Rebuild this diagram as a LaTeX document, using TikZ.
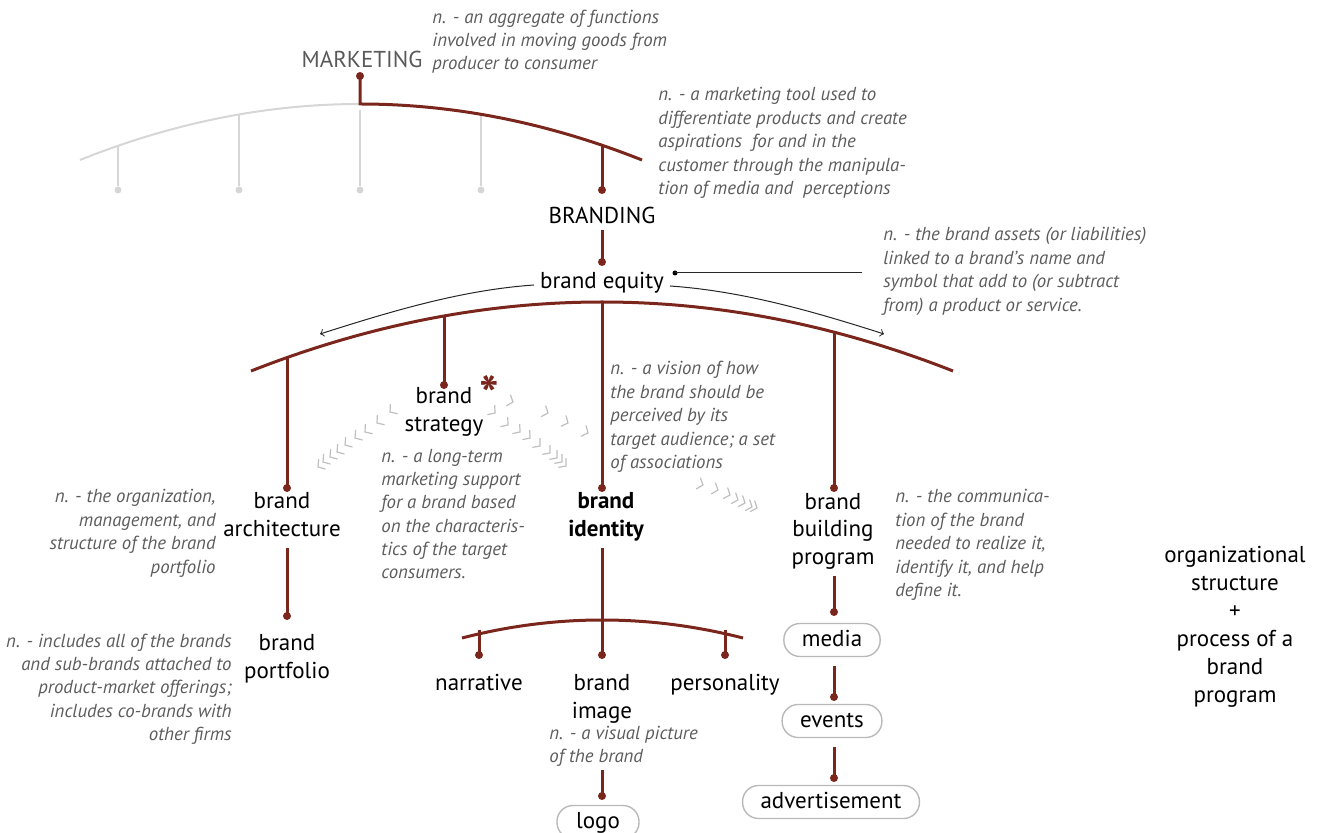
\documentclass[tikz,border=0pt]{standalone}
\usepackage{fontspec}
\setmainfont{PT Sans}
\usetikzlibrary{arrows}
\definecolor{brandred}{RGB}{122,38,28}
\definecolor{notegray}{RGB}{92,92,92}
\definecolor{arcgray}{RGB}{214,214,214}

\begin{document}
\begin{tikzpicture}[
  x=0.5pt, y=-0.5pt, >=to,
  main node/.style={align=center, font=\fontsize{11.5}{14}\selectfont, inner sep=0pt},
  note node/.style={font=\fontsize{9.4}{11.7}\selectfont\itshape, text=notegray, inner sep=0pt},
  left note/.style={note node, anchor=base west, align=left},
  right note/.style={note node, anchor=base east, align=right},
  pill node/.style={main node, draw=gray!55, line width=0.7pt, rounded corners=8pt,
    minimum height=16.5pt, minimum width=41pt, inner xsep=9pt, text height=1.6ex, text depth=0.3ex},
  red line/.style={draw=brandred, line width=1.5pt},
  gray line/.style={draw=arcgray, line width=1pt},
  thin line/.style={draw=black!85, line width=0.5pt},
  red dot/.style={circle, fill=brandred, inner sep=0pt, minimum size=4pt},
  gray dot/.style={circle, fill=arcgray, inner sep=0pt, minimum size=3.5pt},
  chevron/.style={draw=black!25, line width=0.6pt}
]
\useasboundingbox (0,0) rectangle (1322,833);

% marketing and the top arc (text nodes sit on the baseline of their last line)
\node[main node, anchor=base, text=black!65] (marketing) at (362,68) {MARKETING};
\node[left note] (marketing note) at (432,70) {n. - an aggregate of functions\\involved in moving goods from\\producer to consumer};
\node[red dot] (marketing dot) at (360,76) {};
\coordinate (top left) at (80,160);
\coordinate (top apex) at (360,104);
\coordinate (top right) at (642,160);
\draw[gray line] (top left) .. controls (173,122.7) and (267,104) .. (top apex);
\foreach \tx/\ty in {118/146, 239/114.6, 360/110, 481/114.6} {
  \coordinate (top tick \tx) at (\tx,\ty);
  \node[gray dot] (top end \tx) at (\tx,190) {};
  \draw[gray line] (top tick \tx) -- (top end \tx);
}
\draw[red line] (marketing dot.center) -- (top apex) .. controls (454,104) and (548,122.7) .. (top right);
\coordinate (top tick 602) at (602,145.2);
\node[red dot] (branding dot) at (602,190) {};
\draw[red line] (top tick 602) -- (branding dot.center);

% branding
\node[main node, anchor=base] (branding) at (602,224) {BRANDING};
\node[left note] (branding note) at (658,194.6) {n. - a marketing tool used to\\differentiate products and create\\aspirations\ \ for and in the\\customer through the manipula-\\tion of media and\ \ perceptions};
\coordinate (branding low) at (602,230);
\node[red dot] (equity dot) at (602,262) {};
\draw[red line] (branding low) -- (equity dot.center);

% brand equity
\node[main node, anchor=base] (equity) at (602,289) {brand equity};
\node[left note] (equity note) at (883,311.2) {n. - the brand assets (or liabilities)\\linked to a brand's name and\\symbol that add to (or subtract\\from) a product or service.};
\node[circle, fill=black, inner sep=0pt, minimum size=2.5pt] (equity pin) at (675,273) {};
\coordinate (equity end) at (862,273);
\draw[thin line] (equity pin.center) -- (equity end);
\coordinate (equity left) at (534,285);
\coordinate (equity right) at (670,286);
\coordinate (left tip) at (320,334);
\coordinate (right tip) at (884,334);
\draw[thin line, ->] (equity left) .. controls (462,290) and (392,311) .. (left tip);
\draw[thin line, ->] (equity right) .. controls (742,291) and (812,311) .. (right tip);

% big arc
\coordinate (arc left) at (251,371);
\coordinate (arc apex) at (602,302);
\coordinate (arc right) at (953,371);
\draw[red line] (arc left) .. controls (485,279) and (719,279) .. (arc right);
\foreach \name/\tx/\ty/\dy in {architecture/287/357.6/488, strategy/444/316/385, identity/602/302/488, building/834/332.1/488} {
  \coordinate (arc tick \name) at (\tx,\ty);
  \node[red dot] (\name dot) at (\tx,\dy) {};
  \draw[red line] (arc tick \name) -- (\name dot.center);
}

% chevrons
\foreach \px/\py/\pa in {390/412/217, 377/423/217, 365/432/217, 355/438/215, 345/445/215,
  337/452/215, 330/457/215, 323/462/215, 318/467/215,
  513/402/-20, 548/413/-22, 568/423/-25, 588/433/-25,
  703/485/-20, 718/490/-20, 730/495/-22, 738/500/-22, 745/503/-22, 752/507/-22, 757/508/-22,
  495/413/-38, 508/425/-38, 520/432/-38, 530/438/-38, 540/446/-40, 550/453/-40,
  557/458/-40, 562/462/-40, 566/466/-40}
  \draw[chevron, shift={(\px,\py)}, rotate=\pa] (-5,6) -- (0,0) -- (-5,-6);

% second level
\node[main node, anchor=base] (strategy) at (444,432) {brand\\strategy};
\node[font=\fontsize{26}{26}\selectfont\bfseries, text=brandred, inner sep=0pt] (star) at (489,394) {*};
\node[left note] (strategy note) at (381,579) {n. - a long-term\\marketing support\\for a brand based\\on the characteris-\\tics of the target\\consumers.};
\node[left note] (identity note) at (610,468.6) {n. - a vision of how\\the brand should be\\perceived by its\\target audience; a set\\of associations};
\node[main node, anchor=base] (architecture) at (282,537) {brand\\architecture};
\node[right note] (architecture note) at (216,573.2) {n. - the organization,\\management, and\\structure of the brand\\portfolio};
\node[main node, anchor=base, font=\fontsize{11.5}{14}\selectfont\bfseries] (identity) at (606,537) {brand\\identity};
\node[main node, anchor=base] (building) at (833,565) {brand\\building\\program};
\node[left note] (building note) at (895,596.6) {n. - the communica-\\tion of the brand\\needed to realize it,\\identify it, and help\\define it.};

% architecture branch
\coordinate (architecture low) at (287,548);
\node[red dot] (portfolio dot) at (287,616) {};
\draw[red line] (architecture low) -- (portfolio dot.center);
\node[main node, anchor=base] (portfolio) at (287,678) {brand\\portfolio};
\node[right note] (portfolio note) at (232,740.6) {n. - includes all of the brands\\and sub-brands attached to\\product-market offerings;\\includes co-brands with\\other firms};

% identity branch
\coordinate (identity low) at (602,548);
\coordinate (small left) at (462,638);
\coordinate (small apex) at (602,602);
\coordinate (small right) at (743,638);
\node[red dot] (image dot) at (602,655) {};
\draw[red line] (identity low) -- (image dot.center);
\draw[red line] (small left) .. controls (555,614) and (649,614) .. (small right);
\foreach \name/\tx in {narrative/479, personality/725} {
  \coordinate (small tick \name) at (\tx,629.8);
  \node[red dot] (\name dot) at (\tx,655) {};
  \draw[red line] (small tick \name) -- (\name dot.center);
}
\node[main node, anchor=base] (narrative) at (479,690) {narrative};
\node[main node, anchor=base] (image) at (602,718) {brand\\image};
\node[main node, anchor=base] (personality) at (725,690) {personality};
\node[left note] (image note) at (549,762.4) {n. - a visual picture\\of the brand};
\coordinate (image low) at (602,770);
\node[red dot] (logo dot) at (602,796) {};
\draw[red line] (image low) -- (logo dot.center);
\node[pill node] (logo) at (598,822) {logo};

% building branch
\coordinate (building low) at (834,576);
\node[red dot] (media dot) at (834,612) {};
\draw[red line] (building low) -- (media dot.center);
\node[pill node] (media) at (832,640) {media};
\coordinate (media low) at (834,666);
\node[red dot] (events dot) at (834,697) {};
\draw[red line] (media low) -- (events dot.center);
\node[pill node] (events) at (832,721) {events};
\coordinate (events low) at (834,747);
\node[red dot] (advert dot) at (834,778) {};
\draw[red line] (events low) -- (advert dot.center);
\node[pill node] (advert) at (831,802) {advertisement};

% summary
\node[main node, anchor=base] (summary) at (1235,702) {organizational\\structure\\+\\process of a\\brand\\program};
\end{tikzpicture}
\end{document}
